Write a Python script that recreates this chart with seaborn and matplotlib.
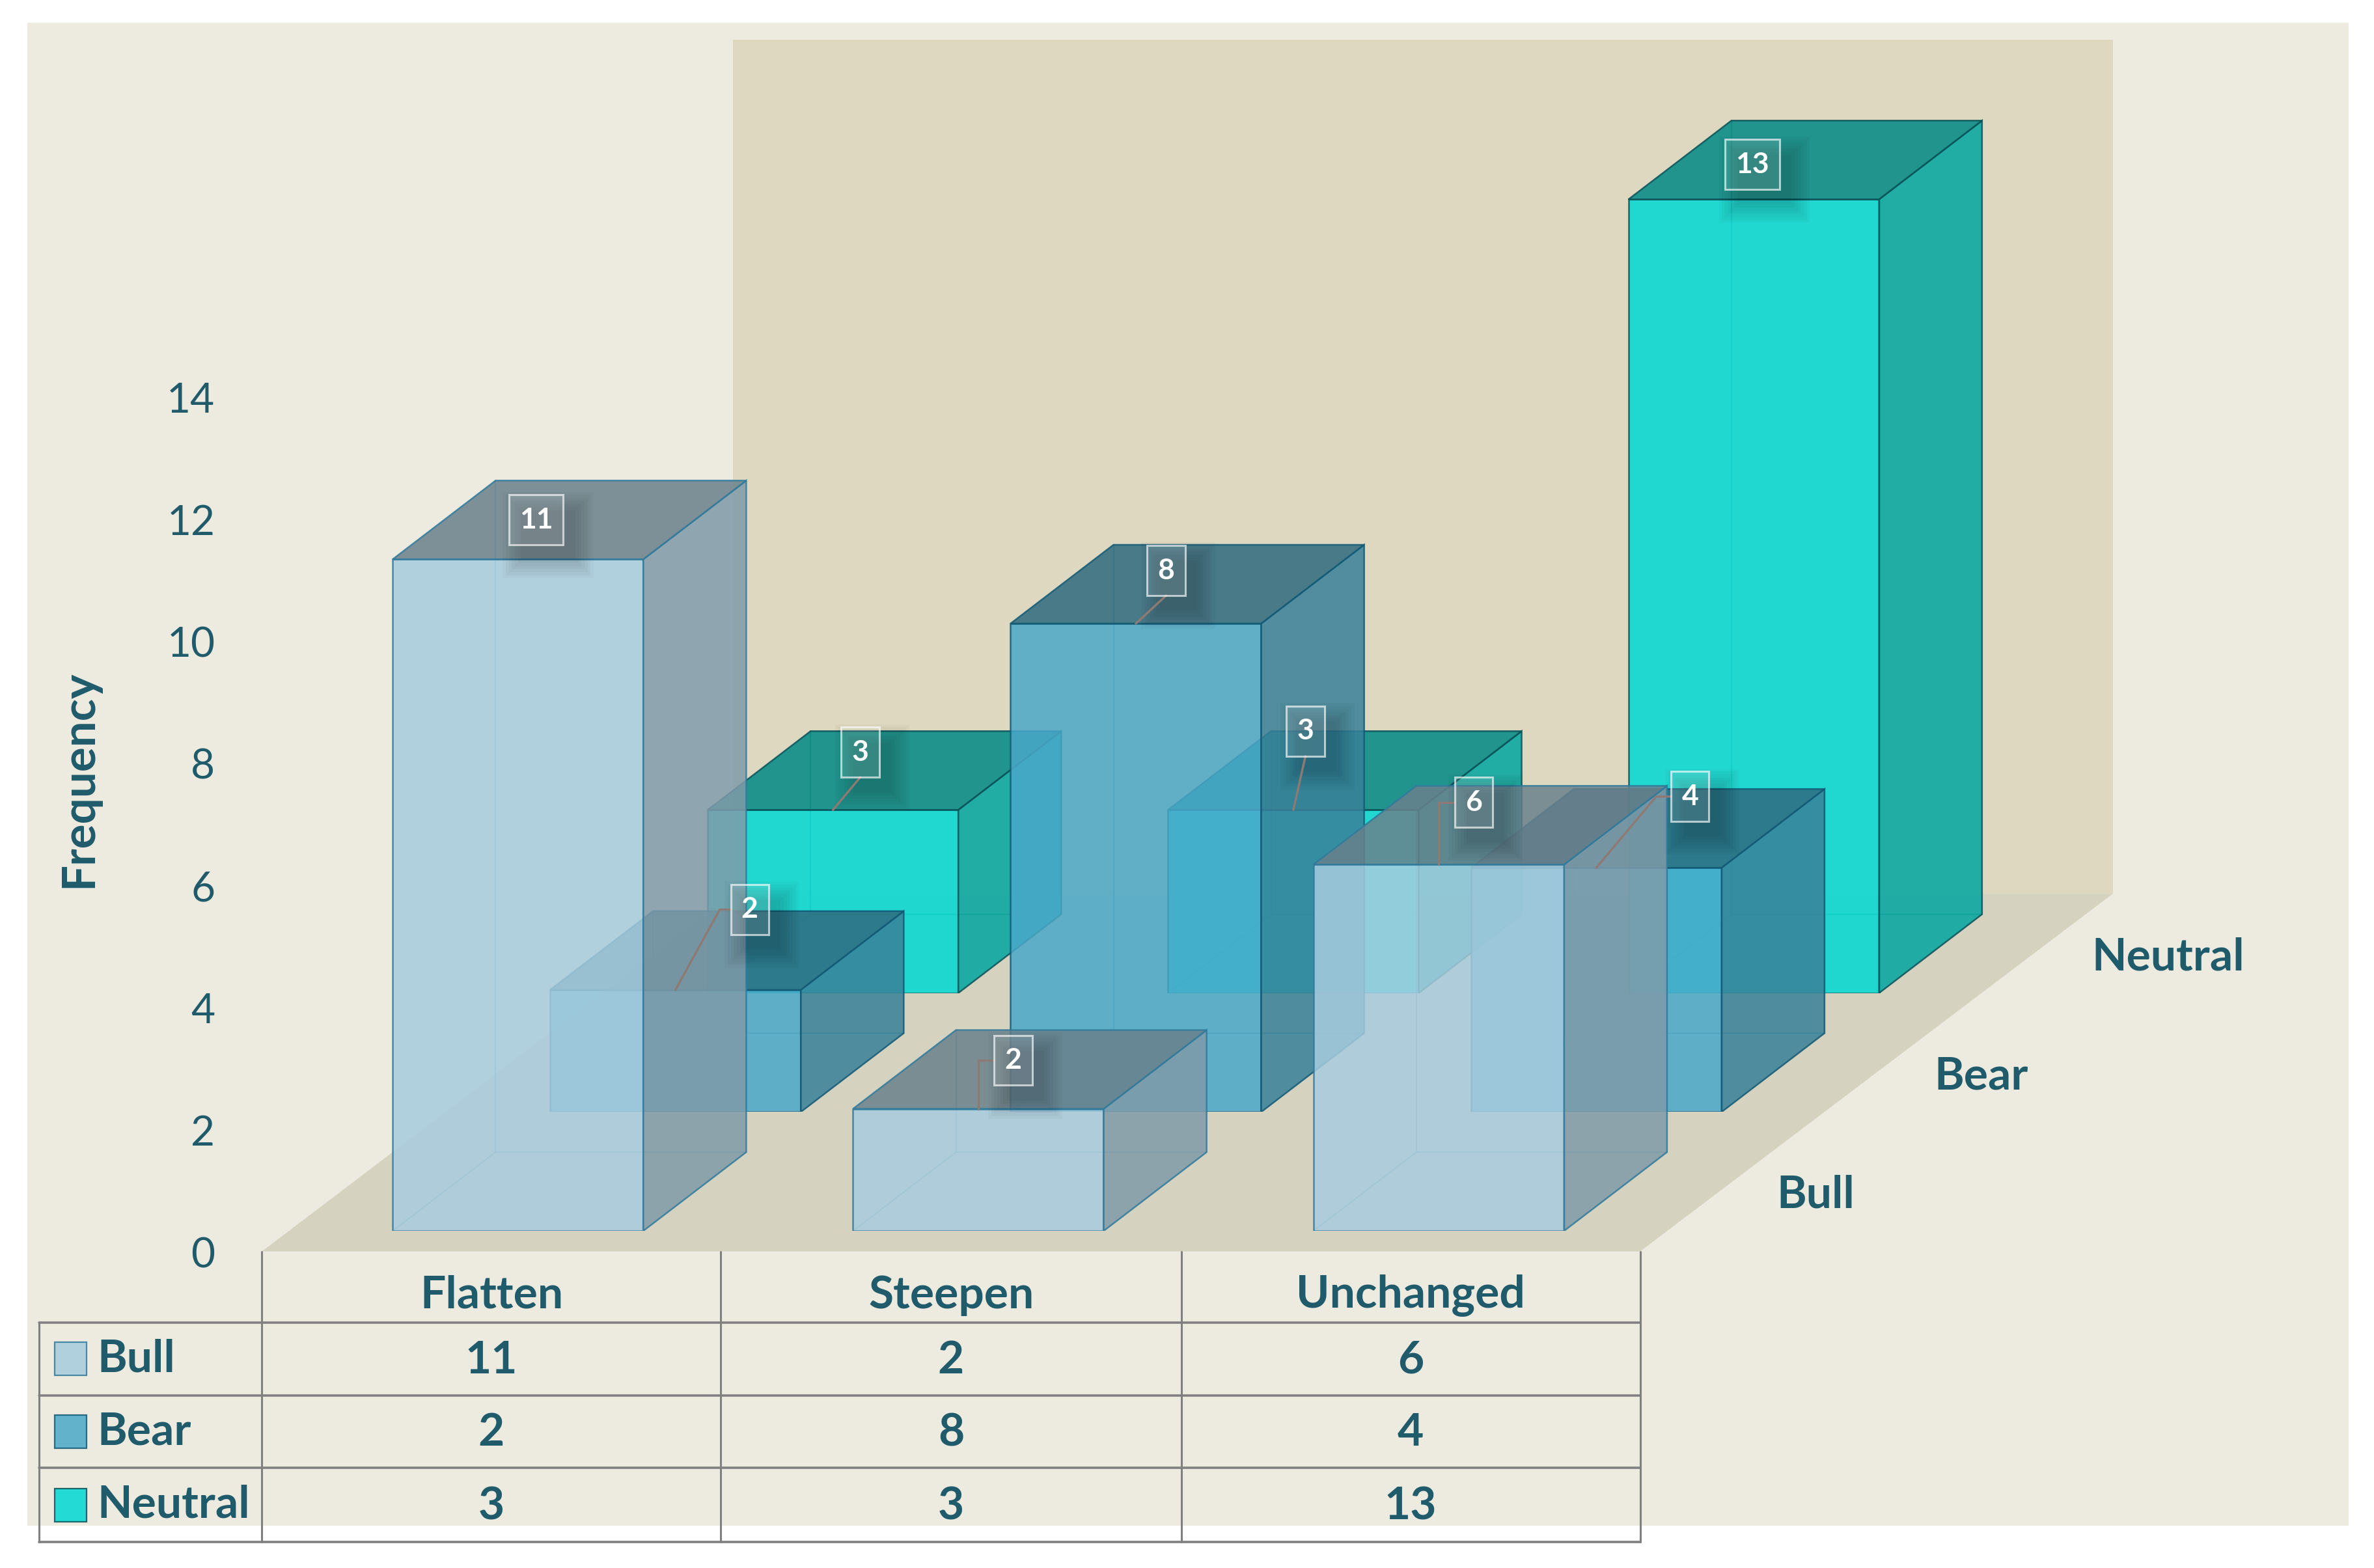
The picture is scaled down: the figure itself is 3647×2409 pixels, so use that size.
import matplotlib
matplotlib.use('Agg')
import matplotlib.pyplot as plt
from matplotlib.patches import Rectangle, Polygon
import seaborn as sns
import pandas as pd

categories = ['Flatten', 'Steepen', 'Unchanged']
series_names = ['Bull', 'Bear', 'Neutral']
bull_values = [11, 2, 6]
bear_values = [2, 8, 4]
neutral_values = [3, 3, 13]
y_ticks = [0, 2, 4, 6, 8, 10, 12, 14]

# label offsets from the top centre of each bar's front face: series -> per category
label_dx = {'Bull': [12, 23, 23], 'Bear': [49, 20, 62], 'Neutral': [18, 8, -1]}
label_dy = {'Bull': [-26, -32, -41], 'Bear': [-53, -35, -47], 'Neutral': [-38, -52, -23]}
# leader style: None, 'direct' or 'elbow'
leader = {'Bull': [None, 'elbow', 'elbow'], 'Bear': ['elbow', 'direct', 'elbow'], 'Neutral': ['direct', 'direct', None]}

front_colors = {'Bull': '#A7CCDE', 'Bear': '#4AA8C9', 'Neutral': '#00D9D3'}
edge_colors = {'Bull': '#2F7A9C', 'Bear': '#125A76', 'Neutral': '#0A5258'}
text_color = '#1F5B6B'

# layout in units of a 1568x1035 canvas
W, H = 1568, 1035
STEP = 304
UNIT = 40.3
ROW_DX, ROW_DY = 104, -78.5
BAR_W = 165.5
BASE_Y = 812.5
DEPTH_X, DEPTH_Y = 68, -52
ALPHA = 0.85

sns.set_theme(style='white')
plt.rcParams['font.family'] = ['Lato', 'DejaVu Sans']

df = pd.DataFrame({'category': categories, 'Bull': bull_values, 'Bear': bear_values, 'Neutral': neutral_values})

fig = plt.figure(figsize=(36.48, 24.09), dpi=100, facecolor='white')


def axes_rect(left, bottom_y, width, height):
    return [left / W, 1 - bottom_y / H, width / W, height / H]


def shade(color, factor):
    rgb = matplotlib.colors.to_rgb(color)
    return tuple(c * factor for c in rgb)


# background, wall and floor
bg = fig.add_axes([0, 0, 1, 1], zorder=0)
bg.set_xlim(0, W)
bg.set_ylim(H, 0)
bg.axis('off')
bg.add_patch(Rectangle((18, 15), 1533, 992, facecolor='#EDEADF', edgecolor='none'))
bg.add_patch(Rectangle((484, 26), 911, 564, facecolor='#DFD8C0', edgecolor='none'))
bg.add_patch(Polygon([(173, 826), (1083, 826), (1395, 590), (484, 590)], facecolor='#D6D2C0', edgecolor='none'))

# value axis
tick_ax = fig.add_axes(axes_rect(173, 826.5, 910, 16 * UNIT), zorder=1)
tick_ax.set_ylim(0, 16)
tick_ax.set_xticks([])
tick_ax.set_yticks(y_ticks)
tick_ax.tick_params(axis='y', length=0, pad=52, labelsize=46, labelcolor=text_color)
tick_ax.patch.set_visible(False)
sns.despine(ax=tick_ax, left=True, bottom=True)

# one oblique-shifted axes per series, back row first
for row in [2, 1, 0]:
    name = series_names[row]
    left = 342 - 0.5 * STEP + row * ROW_DX
    ax = fig.add_axes(axes_rect(left, BASE_Y + row * ROW_DY, 3 * STEP, 16 * UNIT), zorder=2 + (2 - row))
    front = front_colors[name]
    edge = edge_colors[name]
    sns.barplot(data=df, x='category', y=name, order=categories, color=front, saturation=1, width=BAR_W / STEP,
                alpha=ALPHA, edgecolor=edge, linewidth=1.8, zorder=3, ax=ax)
    ax.set_xlim(-0.5, 2.5)
    ax.set_ylim(0, 16)
    ax.axis('off')

    half = BAR_W / STEP / 2
    dx = DEPTH_X / STEP
    dy = -DEPTH_Y / UNIT
    for i, val in enumerate(df[name]):
        x0, x1 = i - half, i + half
        # inner edges, seen through the front
        ax.plot([x0, x0 + dx, x1 + dx], [0, dy, dy], color=edge, lw=1.4, alpha=0.45, zorder=2)
        ax.plot([x0 + dx, x0 + dx], [dy, val + dy], color=edge, lw=1.4, alpha=0.45, zorder=2)
        side = [(x1, 0), (x1 + dx, dy), (x1 + dx, val + dy), (x1, val)]
        top = [(x0, val), (x1, val), (x1 + dx, val + dy), (x0 + dx, val + dy)]
        ax.add_patch(Polygon(side, facecolor=shade(front, 0.76), edgecolor=edge, lw=1.8, alpha=ALPHA, zorder=3))
        ax.add_patch(Polygon(top, facecolor=shade(front, 0.63), edgecolor=edge, lw=1.8, alpha=ALPHA, zorder=3))

# overlay: data labels, table and text
over = fig.add_axes([0, 0, 1, 1], zorder=10)
over.set_xlim(0, W)
over.set_ylim(H, 0)
over.axis('off')

for row, name in enumerate(series_names):
    for i, val in enumerate(df[name]):
        ax_x = 342 + i * STEP + row * ROW_DX
        ax_y = BASE_Y + row * ROW_DY - val * UNIT
        lx = ax_x + label_dx[name][i]
        ly = ax_y + label_dy[name][i]
        bw = 36 if val >= 10 else 25
        bh = 33
        # soft shadow
        for grow in range(0, 14, 2):
            over.add_patch(Rectangle((lx - bw / 2 + 8 - grow, ly - bh / 2 + 10 - grow), bw + 2 * grow, bh + 2 * grow,
                                     facecolor='black', edgecolor='none', alpha=0.028, zorder=1))
        style = leader[name][i]
        if style == 'direct':
            over.plot([ax_x, lx], [ax_y, ly + bh / 2], color='#8E7A74', lw=2.4, zorder=2)
        elif style == 'elbow':
            knee = ax_x + (lx - bw / 2 - ax_x) * 0.8 if abs(label_dx[name][i]) > 30 else ax_x
            over.plot([ax_x, knee, lx - bw / 2], [ax_y, ly, ly], color='#8E7A74', lw=2.4, zorder=2)
        over.add_patch(Rectangle((lx - bw / 2, ly - bh / 2), bw, bh, facecolor=(1, 1, 1, 0.12),
                                 edgecolor=(1, 1, 1, 0.65), lw=2.2, zorder=3))
        over.text(lx, ly, str(val), color='white', fontsize=32, fontweight='bold', ha='center', va='center', zorder=4)

    # depth axis labels
    over.text(1173 + row * ROW_DX, 789 + row * ROW_DY, name, color=text_color, fontsize=50, fontweight='bold',
              ha='left', va='center')

over.text(52, 514, 'Frequency', color=text_color, fontsize=51, fontweight='bold', rotation=90, ha='center', va='center')

# data table
col_x = [173, 476, 780, 1083]
row_y = [873, 921, 969, 1018]
grid = '#808080'
for x in col_x:
    over.plot([x, x], [826, 1018], color=grid, lw=2.2)
over.plot([26, 26], [873, 1018], color=grid, lw=2.2)
for y in row_y:
    over.plot([26, 1083], [y, y], color=grid, lw=2.6)

for j, cat in enumerate(categories):
    cx = (col_x[j] + col_x[j + 1]) / 2
    over.text(cx, 855, cat, color=text_color, fontsize=50, fontweight='bold', ha='center', va='center')
    for k, name in enumerate(series_names):
        cy = (row_y[k] + row_y[k + 1]) / 2
        over.text(cx, cy + 1, str(df[name][j]), color=text_color, fontsize=50, fontweight='bold', ha='center', va='center')

for k, name in enumerate(series_names):
    cy = (row_y[k] + row_y[k + 1]) / 2
    over.add_patch(Rectangle((36, cy - 11), 21, 22, facecolor=front_colors[name], edgecolor=edge_colors[name],
                             lw=1.6, alpha=ALPHA))
    over.text(64, cy, name, color=text_color, fontsize=50, fontweight='bold', ha='left', va='center')

fig.savefig('out.png', dpi=100)
